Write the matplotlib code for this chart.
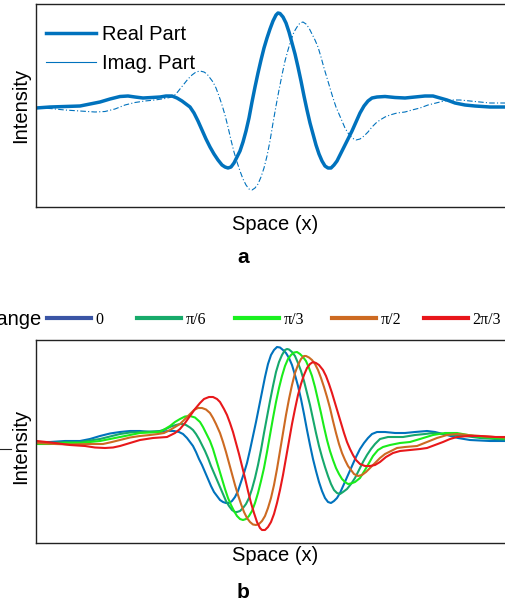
import matplotlib
matplotlib.use("Agg")
import matplotlib.pyplot as plt
from matplotlib.lines import Line2D

plt.rcParams['font.family'] = ['Liberation Sans', 'DejaVu Sans']

# Space (x) in arbitrary units, intensity in arbitrary units (0 = baseline)
# ---------------- Panel a: real / imaginary parts ----------------
real_pts = [(36, -1), (50, 0), (65, 0.5), (80, 1), (90, 3), (100, 5), (110, 8), (120, 10.5),
            (128, 11), (135, 10), (143, 9), (152, 9.5), (160, 10), (166, 11), (172, 11),
            (177, 9), (182, 6), (186, 3), (190, 0), (194, -6), (198, -14), (202, -23),
            (206, -32), (210, -40), (214, -47), (218, -53), (222, -58), (225, -60),
            (228, -61), (231, -60), (234, -56), (237, -50), (240, -44), (243, -35),
            (246, -24), (249, -11), (252, 5), (255, 20), (258, 34), (261, 47), (264, 59),
            (267, 69), (270, 78), (273, 86), (276, 92), (278, 94), (280, 93.5), (283, 90),
            (286, 84), (289, 75), (292, 64), (295, 53), (298, 40), (301, 26), (304, 11),
            (307, -3), (310, -16), (313, -27), (316, -38), (319, -47), (322, -54),
            (325, -59), (328, -61), (331, -61), (334, -58), (337, -54), (340, -48),
            (344, -40), (348, -32), (352, -24), (356, -15), (360, -6), (364, 1), (368, 6),
            (372, 9), (377, 10), (385, 10.5), (395, 9.5), (405, 9), (415, 10), (425, 11),
            (433, 11), (440, 9), (447, 7), (455, 4), (465, 2), (475, 1), (490, 0), (514, 0)]

imag_pts = [(36, -1), (50, -1.5), (65, -3), (80, -4), (95, -5), (105, -4.5), (115, -2),
            (125, 2), (135, 4.5), (145, 6), (155, 7), (165, 8.5), (172, 10), (176, 13),
            (180, 18), (184, 23), (188, 28), (192, 32), (196, 35), (200, 36), (204, 35),
            (207, 33), (210, 29), (213, 25), (216, 19), (219, 11), (222, 2), (225, -8),
            (228, -20), (231, -33), (234, -45), (237, -55), (240, -64), (243, -72),
            (246, -78), (249, -82), (252, -83), (255, -81), (258, -77), (261, -70),
            (264, -61), (267, -49), (270, -34), (273, -16), (276, 1), (279, 17), (282, 32),
            (285, 46), (288, 57), (291, 67), (294, 75), (297, 80), (300, 84), (303, 85),
            (306, 83), (309, 79), (312, 73), (315, 67), (318, 60), (321, 50), (324, 39),
            (327, 29), (330, 19), (333, 9), (336, 0), (339, -7), (342, -14), (345, -21),
            (348, -26), (352, -31), (356, -33), (360, -32), (364, -29), (368, -25),
            (372, -20), (376, -16), (380, -13), (385, -10), (390, -8), (397, -6),
            (405, -5), (412, -3), (420, -1), (428, 2), (436, 4), (444, 6), (452, 7),
            (460, 7), (470, 6), (480, 5), (490, 4), (514, 4)]

# ---------------- Panel b: phase change ----------------
phase_labels = ['0', 'π/6', 'π/3', 'π/2', '2π/3']

phase_0 = [(37, 0), (50, 0), (65, 1), (80, 1), (90, 3), (100, 6), (110, 8.5), (120, 10),
           (130, 11), (140, 11), (150, 10), (160, 10), (168, 11), (174, 11), (179, 10),
           (183, 8), (187, 4), (190, 0), (193, -4), (196, -10), (199, -17), (202, -23),
           (205, -30), (208, -37), (211, -44), (214, -50), (217, -54), (220, -58),
           (223, -60), (226, -61), (229, -61), (232, -59), (235, -55), (238, -49),
           (241, -40), (244, -31), (247, -21), (250, -8), (253, 6), (256, 20), (259, 35),
           (262, 50), (265, 65), (268, 78), (271, 87), (274, 92), (277, 95), (280, 94.5),
           (283, 92), (286, 89), (289, 84), (292, 77), (295, 67), (298, 56), (301, 43),
           (304, 28), (307, 12), (310, -3), (313, -17), (316, -29), (319, -40), (322, -49),
           (325, -56), (328, -60), (331, -61), (334, -59), (337, -56), (340, -51),
           (344, -42), (348, -33), (352, -24), (356, -15), (360, -7), (364, -1), (368, 4),
           (372, 8), (377, 10), (385, 10), (395, 9), (405, 9), (415, 10), (427, 11),
           (435, 10), (447, 7), (458, 4), (470, 2), (490, 1), (514, 1)]

phase_pi6 = [(37, -1), (50, -1), (65, 0), (80, 0), (90, 1.5), (100, 3), (110, 5.5), (120, 8),
             (130, 9.5), (140, 10), (150, 10.5), (160, 11), (166, 13), (171, 15.5), (176, 17),
             (180, 18), (183, 18), (186, 17), (190, 14.5), (193, 12), (196, 8), (199, 3),
             (202, -3), (205, -9), (208, -16), (211, -24), (214, -31), (217, -38), (220, -45),
             (223, -52), (226, -59), (229, -64), (232, -68), (235, -70), (237, -70),
             (240, -69), (243, -66), (246, -62), (249, -56), (252, -47), (255, -36),
             (258, -23), (261, -8), (264, 9), (267, 25), (270, 41), (273, 56), (276, 70),
             (279, 80), (282, 87), (285, 92), (287, 93), (289, 92.5), (292, 90), (295, 86),
             (298, 79), (301, 71), (304, 61), (307, 49), (310, 37), (313, 23), (316, 9),
             (319, -4), (322, -15), (325, -25), (328, -34), (331, -42), (334, -48),
             (337, -51), (340, -52), (343, -50), (347, -47), (351, -42), (355, -36),
             (359, -28), (363, -20), (367, -13), (371, -7), (375, -2), (380, 3), (388, 5),
             (395, 5), (403, 5), (415, 7), (425, 8), (433, 9), (443, 8), (453, 7), (465, 6),
             (480, 4), (495, 3), (514, 2)]

phase_pi3 = [(37, -2), (50, -2), (65, -1), (80, -1), (90, 0), (100, 1), (110, 3), (120, 5),
             (130, 7), (140, 9), (150, 9.5), (160, 10), (165, 13), (170, 16), (175, 20),
             (180, 23), (185, 25.5), (190, 26), (195, 24.5), (200, 20), (203, 15), (206, 9),
             (210, 1), (213, -7), (216, -17), (219, -27), (222, -37), (225, -47), (228, -56),
             (231, -63), (234, -69), (237, -74), (240, -77), (243, -78), (246, -77),
             (249, -74), (252, -69), (255, -61), (258, -51), (261, -39), (264, -26),
             (267, -10), (270, 7), (273, 24), (276, 40), (279, 54), (282, 66), (285, 76),
             (288, 83), (291, 87), (294, 89.5), (297, 90), (300, 88), (303, 85), (306, 81),
             (309, 74), (312, 66), (315, 55), (318, 42), (321, 29), (324, 15), (327, 2),
             (330, -9), (333, -18), (336, -26), (339, -32), (342, -37), (345, -40),
             (348, -42), (351, -41.5), (355, -40), (360, -36), (365, -28), (369, -21),
             (373, -14), (378, -8), (383, -5), (390, -3), (400, -1), (410, 0), (420, 3),
             (433, 7), (445, 9), (457, 9), (468, 7), (480, 5), (495, 4), (514, 3)]

phase_pi2 = [(37, -1), (55, -2), (70, -2.5), (90, -2), (103, -2), (112, 0), (120, 2),
             (130, 4.5), (140, 6), (150, 7), (158, 8), (164, 9), (170, 12), (175, 15),
             (180, 18), (185, 23), (190, 28), (194, 32), (198, 34), (202, 34), (206, 32.5),
             (210, 29), (213, 24), (216, 18), (220, 9), (223, 0), (226, -10), (229, -21),
             (232, -32), (235, -43), (238, -53), (241, -62), (244, -70), (247, -76),
             (250, -80), (253, -82.5), (256, -83), (259, -82), (262, -79), (265, -74),
             (268, -66), (271, -56), (274, -43), (277, -27), (280, -9), (283, 9), (286, 27),
             (289, 43), (292, 57), (295, 69), (298, 77), (301, 83), (304, 86), (306, 86),
             (309, 84.5), (312, 82), (315, 78), (318, 72), (321, 64), (324, 55), (327, 45),
             (330, 34), (333, 21), (336, 9), (339, -2), (342, -11), (345, -18), (348, -24),
             (351, -28), (354, -32), (358, -34), (362, -33), (366, -30), (370, -26),
             (375, -21), (380, -16), (385, -12), (391, -9), (397, -6), (405, -5),
             (417, -4), (427, 0), (437, 4), (447, 7), (457, 8), (468, 7), (480, 6),
             (495, 5), (514, 4)]

phase_2pi3 = [(37, 1), (55, -1), (70, -3), (85, -4), (95, -5.5), (105, -6), (113, -5.5),
              (120, -4), (130, -1), (140, 2), (153, 4), (160, 4.5), (167, 5), (171, 7),
              (175, 9), (180, 13), (185, 19), (190, 26), (195, 33), (200, 39), (204, 43),
              (209, 45), (213, 45), (217, 43), (220, 40), (224, 33), (227, 27), (230, 19),
              (233, 10), (236, -1), (239, -12), (242, -24), (245, -36), (248, -49),
              (251, -61), (254, -71), (257, -80), (260, -86), (262, -88), (265, -88),
              (268, -85), (271, -80), (274, -72), (277, -61), (280, -48), (283, -33),
              (286, -16), (289, 1), (292, 18), (295, 33), (298, 47), (301, 58), (304, 67),
              (307, 74), (310, 78), (313, 80), (316, 79), (319, 77), (323, 72), (326, 66),
              (329, 58), (332, 49), (335, 39), (338, 29), (341, 19), (344, 9), (347, 0),
              (350, -7), (353, -13), (356, -18), (360, -22), (365, -24), (370, -24),
              (375, -23), (380, -20), (386, -15), (393, -11), (400, -9), (410, -8),
              (420, -7), (427, -6), (435, -3), (443, 0), (450, 3), (457, 5), (468, 6),
              (480, 6), (495, 5), (514, 5)]

line_colors = ['#0072BD', '#16A86C', '#1AEC1A', '#CD6A22', '#E8181B']
legend_colors = ['#3A55A5', '#17AA6A', '#1AF01F', '#CD6A22', '#E8161B']

W, H = 506, 606
fig = plt.figure(figsize=(W / 100, H / 100), dpi=100)


def make_axes(top_px, bottom_px):
    left_px, right_px = 36, 514
    ax = fig.add_axes([left_px / W, 1 - bottom_px / H,
                       (right_px - left_px) / W, (bottom_px - top_px) / H])
    for s in ax.spines.values():
        s.set_linewidth(1.0)
        s.set_color('#222222')
    ax.spines['right'].set_visible(False)
    ax.set_xticks([])
    ax.set_yticks([0])
    ax.set_yticklabels([])
    ax.tick_params(axis='y', direction='in', length=3, color='#777777', width=1)
    ax.set_xlim(36, 514)
    return ax


def xy(pts):
    return [p[0] for p in pts], [p[1] for p in pts]


# Panel a
ax1 = make_axes(4, 207)
ax1.set_ylim(-100, 103)
xr, vr = xy(real_pts)
xi, vi = xy(imag_pts)
ax1.plot(xr, vr, color='#0072BD', lw=2.5, label='Real Part', solid_joinstyle='round')
ax1.plot(xi, vi, color='#0072BD', lw=0.8, ls=(0, (5, 2, 1, 2)), label='Imag. Part')
leg1 = ax1.legend(loc='upper left', bbox_to_anchor=(0.021, 0.898), frameon=False,
                  fontsize=14.5, handlelength=2.5, handletextpad=0.3,
                  labelspacing=0.5, borderpad=0, borderaxespad=0)
leg1.get_lines()[1].set_linestyle('-')
ax1.set_xlabel('Space (x)', fontsize=14.5, labelpad=6)
ax1.set_ylabel('Intensity', fontsize=14.5)
ax1.yaxis.set_label_coords(-0.0126, 0.5)

# Panel b
ax2 = make_axes(340, 543)
ax2.set_ylim(-101, 102)
for pts, c in zip([phase_0, phase_pi6, phase_pi3, phase_pi2, phase_2pi3], line_colors):
    xs, vs = xy(pts)
    ax2.plot(xs, vs, color=c, lw=1.5, solid_joinstyle='round')
ax2.set_xlabel('Space (x)', fontsize=14.5, labelpad=2)
ax2.set_ylabel('Intensity', fontsize=14.5)
ax2.yaxis.set_label_coords(-0.0126, 0.478)

# legend entries placed individually along the top of panel b
entry_left_px = [47, 137, 235, 332, 424]
for lab, c, xp in zip(phase_labels, legend_colors, entry_left_px):
    fig.legend([Line2D([], [], color=c, lw=3)], [lab], loc='center left',
               bbox_to_anchor=(xp / W, 1 - 320 / H), frameon=False,
               prop={'family': 'Liberation Serif', 'size': 11.5},
               handlelength=2.75, handletextpad=0.3, borderpad=0, borderaxespad=0)
fig.text(41 / W, 1 - 320 / H, 'Phase Change', ha='right', va='center', fontsize=14.5)
fig.add_artist(Line2D([0, 11 / W], [1 - 449 / H, 1 - 449 / H], color='#222222', lw=0.8))

fig.text(243 / W, 1 - 258 / H, 'a', ha='center', va='center', fontsize=15,
         fontweight='bold')
fig.text(243 / W, 1 - 592 / H, 'b', ha='center', va='center', fontsize=15,
         fontweight='bold')

fig.savefig('out.png', dpi=100)
